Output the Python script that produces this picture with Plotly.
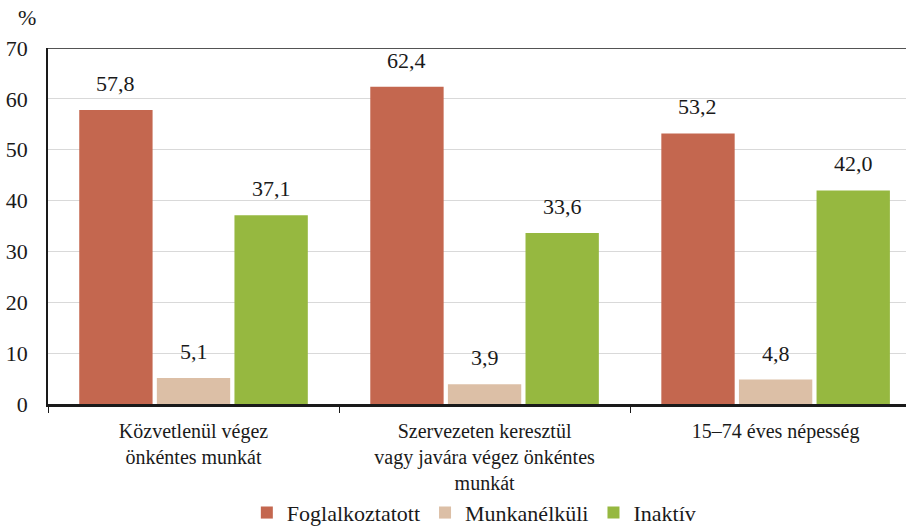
import plotly.graph_objects as go

categories = ["Közvetlenül végez<br>önkéntes munkát",
              "Szervezeten keresztül<br>vagy javára végez önkéntes<br>munkát",
              "15–74 éves népesség"]
series_names = ["Foglalkoztatott", "Munkanélküli", "Inaktív"]
foglalkoztatott = [57.8, 62.4, 53.2]
munkanelkuli = [5.1, 3.9, 4.8]
inaktiv = [37.1, 33.6, 42.0]
colors = ["#C4674F", "#DCBFA6", "#96B840"]
y_ticks = [0, 10, 20, 30, 40, 50, 60, 70]

FONT = "Liberation Serif"
TXT = "#1a1a1a"
fig = go.Figure()
all_series = [foglalkoztatott, munkanelkuli, inaktiv]
for name, vals, col in zip(series_names, all_series, colors):
    fig.add_trace(go.Bar(
        x=categories, y=vals, name=name, marker_color=col, marker_line_width=0,
    ))

# data labels as annotations, shifted onto each bar of the group
slot_px = 858 / 2.948 * 0.8 / 3
for si, vals in enumerate(all_series):
    for cat, v in zip(categories, vals):
        fig.add_annotation(x=cat, y=v, text=f"{v:.1f}".replace(".", ","), showarrow=False,
                           xshift=(si - 1) * slot_px, yshift=12, yanchor="bottom",
                           font=dict(family=FONT, size=22, color=TXT))

fig.update_layout(
    width=906, height=527,
    margin=dict(l=48, r=0, t=48, b=123, autoexpand=False),
    paper_bgcolor="white", plot_bgcolor="white",
    barmode="group", bargap=0.2, bargroupgap=0.055,
    font=dict(family=FONT, size=21, color=TXT),
    showlegend=True,
    legend=dict(orientation="h", x=0.523, xanchor="center", y=0.027, yanchor="middle",
                yref="container", xref="container",
                font=dict(family=FONT, size=22), itemwidth=30, traceorder="normal"),
    xaxis=dict(range=[-0.5, 2.448], showline=True, linecolor=TXT, linewidth=2.5,
               ticks="outside", tickson="boundaries", ticklen=6, tickcolor=TXT,
               tickfont=dict(family=FONT, size=20), ticklabelstandoff=7,
               showgrid=False, automargin=False),
    yaxis=dict(range=[0, 70], tickvals=y_ticks, showline=True, linecolor=TXT, linewidth=1.5,
               gridcolor="#d9d9d9", gridwidth=1, ticks="", zeroline=False, automargin=False,
               tickfont=dict(family=FONT, size=22), ticklabelstandoff=14),
)
fig.add_shape(type="line", xref="paper", yref="y", x0=0, x1=1, y0=70, y1=70,
              line=dict(color=TXT, width=1.5))
fig.add_annotation(text="%", xref="paper", yref="paper", x=-0.0245, y=1.087, xanchor="center",
                   yanchor="middle", showarrow=False, font=dict(family=FONT, size=22, color=TXT))
fig.write_html("out.html", config={"displayModeBar": False},
               post_script="document.body.style.margin='0';")
